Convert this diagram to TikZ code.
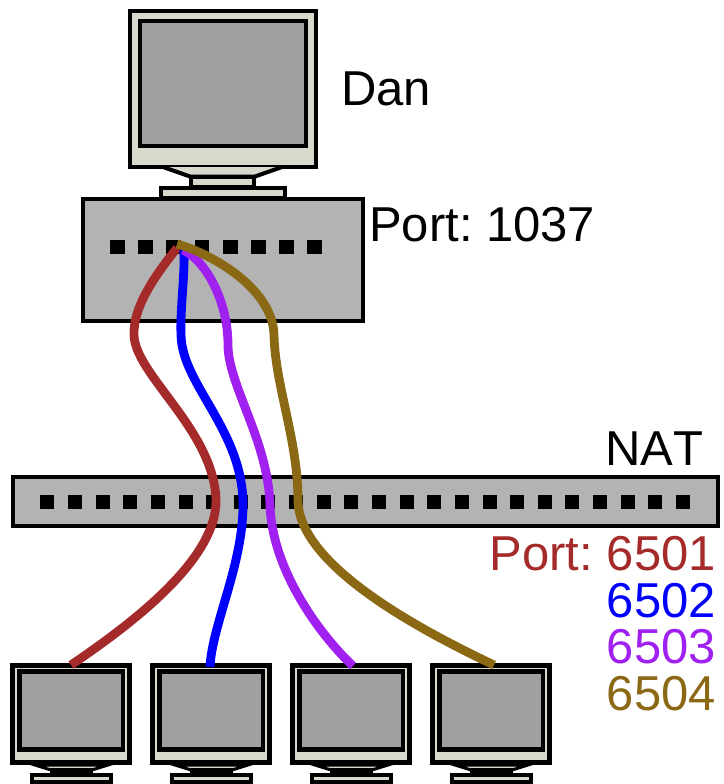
\documentclass[tikz,border=0pt]{standalone}
\usepackage{fontspec}
\setmainfont[Kerning=Off]{Liberation Sans}
\definecolor{casebeige}{HTML}{D8D8CC}
\definecolor{screengray}{HTML}{A0A0A0}
\definecolor{boxgray}{HTML}{B3B3B3}
\definecolor{cablered}{HTML}{A52A2A}
\definecolor{cableblue}{HTML}{0000FF}
\definecolor{cablepurple}{HTML}{A020F0}
\definecolor{cablebrown}{HTML}{8B6914}
\tikzset{
  casepart/.style={draw=black,fill=casebeige,line width=4pt,line join=miter},
  screenpart/.style={draw=black,fill=screengray,line width=4pt},
  smallcase/.style={draw=black,fill=casebeige,line width=5pt,line join=miter},
  porthole/.style={fill=black,draw=none,minimum width=14.5pt,minimum height=14pt,inner sep=0pt,rectangle},
  cable/.style={line width=8.8pt,line cap=butt},
  lbl/.style={inner sep=0pt,font=\frenchspacing\fontsize{49}{52}\selectfont,anchor=base west},
  lblr/.style={inner sep=0pt,font=\frenchspacing\fontsize{49}{52}\selectfont,anchor=base east}
}
\newcommand{\smallmonitor}[1]{%
  \begin{scope}[xshift=#1pt]
    \draw[smallcase] (12.5,665.5) rectangle (129.5,762.5);
    \fill[black] (17,669) rectangle (125,752);
    \fill[screengray] (22,674) rectangle (121,747);
    \draw[black,fill=casebeige,line width=3pt] (35,765) -- (51,770) -- (92,770) -- (108,765) -- cycle;
    \fill[black] (50,768) rectangle (93,774);
    \draw[black,fill=casebeige,line width=4pt] (32,775) rectangle (111,782);
  \end{scope}}
\begin{document}
\begin{tikzpicture}[x=1pt,y=-1pt]
\useasboundingbox (0,0) rectangle (723,784);
% large monitor
\draw[casepart] (129.5,11) rectangle (316,167);
\draw[screenpart] (140,21) rectangle (306,146);
\draw[casepart] (163,167) -- (190,176.5) -- (255,176.5) -- (282,167);
\draw[casepart] (191,177) rectangle (254,187);
% hub box
\node[draw=black,fill=boxgray,line width=4pt,rectangle,minimum width=280pt,minimum height=122pt,inner sep=0pt,outer sep=0pt] (hub) at (223,260) {};
\draw[casepart] (161,188) rectangle (285,198);
% hub ports
\foreach \i/\x in {1/117.5,2/145.5,3/173.5,4/202,5/230.5,6/258.5,7/286.5,8/314.5}
  \node[porthole] (hp\i) at (\x,247) {};
% NAT box
\node[draw=black,fill=boxgray,line width=4pt,rectangle,minimum width=705pt,minimum height=49pt,inner sep=0pt,outer sep=0pt] (nat) at (365.5,501.5) {};
\foreach \i/\x in {1/47,2/75,3/103,4/130,5/158,6/186,7/213,8/241,9/268,10/296,11/324,12/351,13/379,14/407,15/434,16/462,17/490,18/517,19/545,20/572,21/600,22/628,23/655,24/683}
  \node[porthole,minimum width=14pt] (np\i) at (\x,502) {};
% small monitors
\smallmonitor{0}
\smallmonitor{140}
\smallmonitor{280}
\smallmonitor{420}
% connector ends
\coordinate (redstart) at (177,248);
\coordinate (bluestart) at (184,250);
\coordinate (purplestart) at (183,250);
\coordinate (brownstart) at (177,244);
\coordinate (m1) at (71,665);
\coordinate (m2) at (210,667);
\coordinate (m3) at (353,666);
\coordinate (m4) at (494,665);
% cables
\draw[cable,cablered] (redstart) .. controls (158,272) and (133,305) .. (134,335)
  .. controls (135,375) and (214,430) .. (216,500)
  .. controls (217,560) and (130,625) .. (m1);
\draw[cable,cableblue] (bluestart) .. controls (185,275) and (180,310) .. (181,335)
  .. controls (182,385) and (243,430) .. (243,505)
  .. controls (243,565) and (212,625) .. (m2);
\draw[cable,cablepurple] (purplestart) .. controls (205,260) and (228,300) .. (228,345)
  .. controls (228,385) and (268,440) .. (270,505)
  .. controls (272,570) and (320,635) .. (m3);
\draw[cable,cablebrown] (brownstart) .. controls (215,255) and (273,290) .. (274,335)
  .. controls (275,385) and (298,440) .. (298,500)
  .. controls (298,565) and (420,630) .. (m4);
% labels
\node[lbl] (dan) at (341,105) {Dan};
\node[lbl] (port1037) at (369,241) {Port: 1037};
\node[lbl] (natl) at (605,465) {NAT};
\node[lblr,text=cablered] (p6501) at (716,570) {Port: 6501};
\node[lblr,text=cableblue] (p6502) at (716,617) {6502};
\node[lblr,text=cablepurple] (p6503) at (716,663) {6503};
\node[lblr,text=cablebrown] (p6504) at (716,710) {6504};
\end{tikzpicture}
\end{document}
